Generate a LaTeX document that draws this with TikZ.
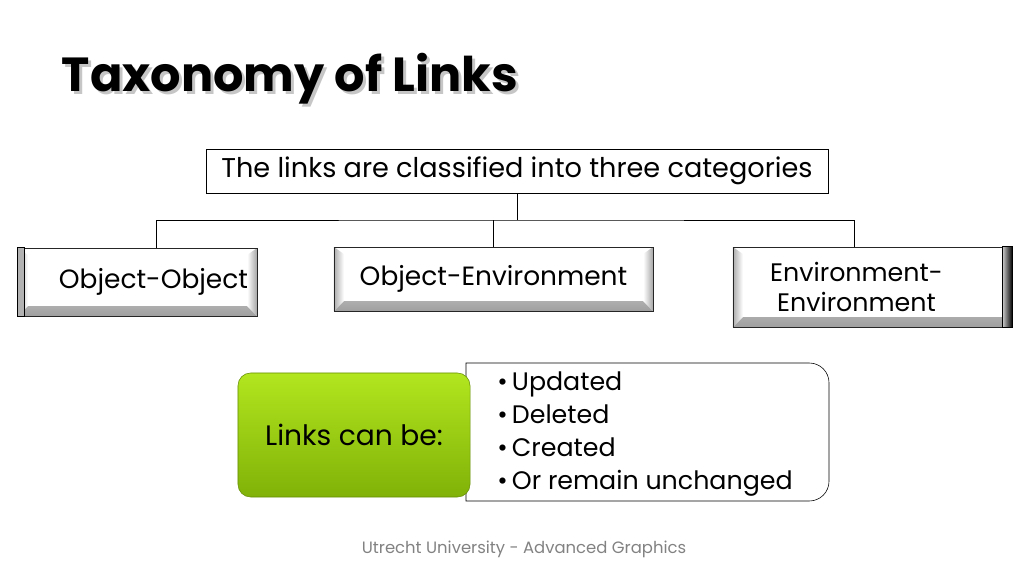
\documentclass[tikz,border=0pt]{standalone}
\usepackage{fontspec}
\setmainfont{Poppins}
\usetikzlibrary{positioning,calc,shapes}
\definecolor{limetop}{RGB}{178,230,30}
\definecolor{limebot}{RGB}{128,178,8}
\definecolor{footgray}{RGB}{130,130,130}
\tikzset{
        x=0.025cm, y=-0.025cm, % one unit is one pixel of the slide
        catbox/.style={draw=black!85, fill=white, align=center, inner sep=0pt,
          font=\fontsize{18.8}{21}\selectfont,
          path picture={
            \shade[top color=white, bottom color=gray!75]
              (path picture bounding box.south west) -- ([xshift=7pt,yshift=7pt]path picture bounding box.south west)
              -- ([xshift=-7pt,yshift=7pt]path picture bounding box.south east) -- (path picture bounding box.south east) -- cycle;
            \shade[left color=gray!65, right color=white]
              (path picture bounding box.south west) -- ([xshift=7pt,yshift=7pt]path picture bounding box.south west)
              -- ([xshift=7pt,yshift=-5pt]path picture bounding box.north west) -- (path picture bounding box.north west) -- cycle;
            \shade[left color=white, right color=gray!70]
              (path picture bounding box.south east) -- ([xshift=-7pt,yshift=7pt]path picture bounding box.south east)
              -- ([xshift=-7pt,yshift=-5pt]path picture bounding box.north east) -- (path picture bounding box.north east) -- cycle;
          }},
        greenbox/.style={draw=limebot!80!black, rounded corners=9pt, top color=limetop, bottom color=limebot,
          minimum width=5.8cm, minimum height=3.1cm, font=\fontsize{20}{22}\selectfont},
}
\begin{document}
\begin{tikzpicture}
\useasboundingbox (0,0) rectangle (1024,576);
% title with its shadow
\node[anchor=base west, gray!45, font=\fontsize{34}{38}\bfseries] at (60,95) {Taxonomy of Links};
\node[anchor=base west, font=\fontsize{34}{38}\bfseries] (title) at (57,92) {Taxonomy of Links};

\node[draw, minimum width=15.55cm, minimum height=1.1cm, font=\fontsize{19.3}{22}\selectfont] (top) at (517,171)
  {The links are classified into three categories};

\node[catbox, minimum width=5.975cm, minimum height=1.7cm] (oo) at (137.5,282) {\hspace*{0.8cm}Object-Object};
\node[catbox, minimum width=7.975cm, minimum height=1.6cm] (oe) at (493.5,279) {Object-Environment};
\node[catbox, minimum width=6.975cm, minimum height=2.0cm, font=\fontsize{18}{21}\selectfont] (ee) at (872.5,287)
  {Environment-\hspace*{0.8cm}\\Environment\hspace*{0.8cm}};
% dark side edges
\draw[fill=gray!60] (oo.north west) rectangle ($(oo.south west)+(7,0)$);
\draw[left color=gray!40, right color=black] ($(ee.north east)+(-10,0)$) rectangle (ee.south east);

% tree connectors
\coordinate (bar) at (0,220);
\coordinate (jn) at (top.south |- bar);
\draw (top.south) -- (jn);
\draw ($(oo.north)+(18.5,0)$) |- (jn) -| ($(ee.north)+(-18.5,0)$);
\draw (oe.north) -- (oe.north |- jn);

% what can happen to links
\draw (466,363) [rounded corners=14pt] -- (829,363) -- (829,501) [sharp corners] -- (466,501) -- cycle;
\node[greenbox] (can) at (354,435) {Links can be:};
\node[anchor=north west, align=left, inner sep=0pt, font=\fontsize{18}{23.5}\selectfont] (list) at (497,371)
  {\textbullet\,Updated\\ \textbullet\,Deleted\\ \textbullet\,Created\\ \textbullet\,Or remain unchanged};

\node[footgray, font=\fontsize{11.7}{13}\selectfont] (foot) at (524,549) {Utrecht University - Advanced Graphics};
\end{tikzpicture}
\end{document}
